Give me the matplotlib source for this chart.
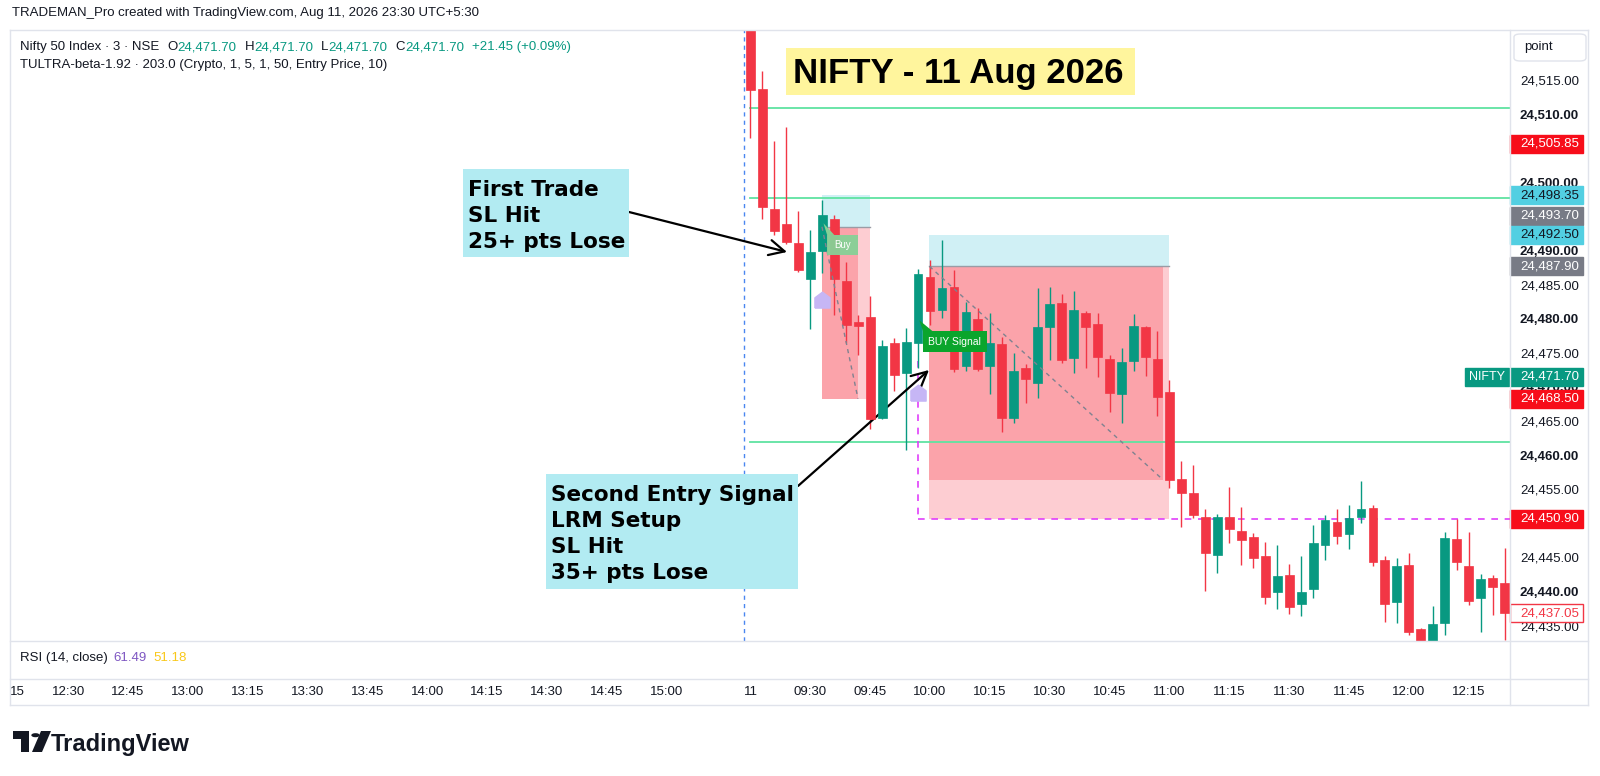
import matplotlib
matplotlib.use("Agg")
import matplotlib.pyplot as plt
from matplotlib.patches import Rectangle, Polygon, Circle, FancyBboxPatch
from matplotlib.lines import Line2D
from matplotlib.path import Path

plt.rcParams['font.family'] = ['Liberation Sans', 'DejaVu Sans']

W, H = 1600, 776
UP = '#089981'
DOWN = '#f23645'
INK = '#131722'
FRAME = '#e0e3eb'

# 3 min NIFTY bars of 11 Aug 2026, bar 0 = 09:15
opens = [24530.0, 24513.9, 24496.3, 24494.1, 24491.3, 24486.0, 24490.1, 24494.8,
         24485.7, 24479.7, 24480.5, 24465.7, 24476.7, 24472.3, 24476.7, 24486.3,
         24481.5, 24484.9, 24473.3, 24480.2, 24473.3, 24476.5, 24465.7, 24473.0,
         24470.8, 24479.0, 24482.5, 24474.5, 24481.1, 24479.4, 24474.3, 24469.2,
         24474.0, 24479.0, 24474.3, 24469.5, 24456.7, 24454.7, 24451.1, 24445.6,
         24451.1, 24449.1, 24448.2, 24445.4, 24440.1, 24442.6, 24438.4, 24440.6,
         24447.0, 24450.4, 24448.7, 24451.1, 24452.5, 24444.8, 24438.7, 24444.1,
         24434.7, 24432.0, 24435.6, 24447.9, 24444.0, 24439.3, 24442.2, 24441.5]
highs = [24533.0, 24516.6, 24506.3, 24508.3, 24496.0, 24493.2, 24497.6, 24495.4,
         24488.5, 24480.8, 24483.5, 24477.1, 24477.4, 24478.9, 24487.5, 24488.8,
         24491.8, 24487.4, 24482.7, 24481.8, 24481.1, 24477.5, 24475.2, 24473.6,
         24484.7, 24484.9, 24483.8, 24484.3, 24481.3, 24481.1, 24474.9, 24475.9,
         24480.9, 24479.1, 24478.4, 24471.2, 24459.4, 24458.8, 24452.3, 24451.6,
         24455.5, 24452.6, 24448.8, 24447.5, 24447.0, 24444.3, 24445.4, 24450.0,
         24451.4, 24452.3, 24452.9, 24456.4, 24452.9, 24445.4, 24445.1, 24445.9,
         24434.9, 24438.1, 24448.9, 24450.9, 24448.9, 24442.8, 24442.6, 24446.6]
lows = [24506.7, 24494.8, 24492.5, 24491.2, 24487.1, 24478.7, 24486.9, 24480.8,
        24476.7, 24474.9, 24464.0, 24465.5, 24469.6, 24461.0, 24473.0, 24479.3,
        24480.3, 24472.4, 24472.5, 24472.5, 24469.2, 24463.6, 24464.9, 24467.9,
        24468.6, 24474.2, 24473.7, 24472.3, 24473.0, 24471.7, 24466.5, 24464.9,
        24472.6, 24471.8, 24466.0, 24455.4, 24449.7, 24451.0, 24440.3, 24442.9,
        24447.3, 24444.1, 24443.7, 24438.4, 24437.7, 24436.9, 24436.6, 24439.3,
        24444.8, 24447.2, 24446.5, 24450.3, 24444.0, 24435.7, 24435.6, 24433.8,
        24431.0, 24431.0, 24433.8, 24443.4, 24438.2, 24434.3, 24436.8, 24433.1]
closes = [24513.8, 24496.6, 24493.1, 24491.5, 24487.4, 24490.0, 24495.4, 24486.0,
          24479.3, 24479.1, 24465.5, 24476.2, 24472.0, 24476.8, 24486.8, 24481.3,
          24484.7, 24472.8, 24481.2, 24472.8, 24476.7, 24465.7, 24472.6, 24471.4,
          24479.0, 24482.4, 24474.2, 24481.5, 24479.0, 24474.6, 24469.3, 24473.9,
          24479.1, 24474.6, 24468.7, 24456.6, 24454.7, 24451.4, 24445.9, 24451.1,
          24449.4, 24447.8, 24445.1, 24439.4, 24442.5, 24437.9, 24440.1, 24447.3,
          24450.7, 24448.4, 24451.0, 24452.3, 24444.5, 24438.4, 24444.0, 24434.3,
          24432.0, 24435.5, 24448.1, 24444.5, 24438.8, 24442.1, 24440.9, 24437.05]

# horizontal levels
level_lines = [24511.1, 24497.9, 24462.1]
stop_line = 24450.90

# the two long position tools
pos_entry = [24493.70, 24487.90]
pos_target = [24498.35, 24492.50]
pos_stop = [24468.50, 24450.90]
pos_exit = [24468.50, 24456.60]
pos_start = [5.97, 14.95]
pos_end = [9.98, 34.97]
pos_exit_bar = [8.98, 34.46]

signal_bars = [6, 14]
signal_prices = [24483.0, 24469.3]

# price scale (levels hidden behind tags left out)
axis_prices = [24515, 24510, 24500, 24490, 24485, 24480, 24475,
               24470, 24465, 24460, 24455, 24445, 24440, 24435]
tag_prices = [24505.85, 24498.35, 24493.70, 24492.50, 24487.90, 24471.70,
              24468.50, 24450.90, 24437.05]
tag_kinds = ['red', 'cyan', 'gray', 'cyan', 'gray', 'teal', 'red', 'red', 'last']

# time scale
time_labels = ['15', '12:30', '12:45', '13:00', '13:15', '13:30', '13:45',
               '14:00', '14:15', '14:30', '14:45', '15:00', '11', '09:30',
               '09:45', '10:00', '10:15', '10:30', '10:45', '11:00', '11:15',
               '11:30', '11:45', '12:00', '12:15']
time_bars = [-62, -57, -52, -47, -42, -37, -32, -27, -22, -17, -12, -7, 0, 5,
             10, 15, 20, 25, 30, 35, 40, 45, 50, 55, 60]


def fx(x):
    return x / W


def fy(y):
    return 1 - y / H


def fig_line(x0, y0, x1, y1, color=FRAME, lw=1):
    fig.add_artist(Line2D([fx(x0), fx(x1)], [fy(y0), fy(y1)], color=color, lw=lw))


fig = plt.figure(figsize=(16, 7.76), dpi=100)
fig.patch.set_facecolor('white')

XLIM = (-61.86, 63.45)
YLIM = (24432.96, 24522.55)

ax = fig.add_axes([fx(10), fy(641), fx(1500), 611 / H])
ax.set_xlim(*XLIM)
ax.set_ylim(*YLIM)
ax.axis('off')

# session break
ax.axvline(-0.54, color='#4a86f0', lw=1, dashes=(3, 3), zorder=1)

# position tools
for i in range(2):
    s, e = pos_start[i], pos_end[i]
    ax.add_patch(Rectangle((s, pos_entry[i]), e - s, pos_target[i] - pos_entry[i],
                           facecolor='#d0f0f5', edgecolor='none', zorder=1))
    ax.add_patch(Rectangle((s, pos_stop[i]), e - s, pos_entry[i] - pos_stop[i],
                           facecolor='#fdcdd2', edgecolor='none', zorder=1))
    ax.add_patch(Rectangle((s, pos_exit[i]), pos_exit_bar[i] - s, pos_entry[i] - pos_exit[i],
                           facecolor='#fba3aa', edgecolor='none', zorder=1.1))
    ax.plot([s, e], [pos_entry[i], pos_entry[i]], color='#9a9ca5', lw=1, zorder=1.2)
    ax.plot([s, pos_exit_bar[i]], [pos_entry[i], pos_exit[i]], color='#7f8290',
            lw=1, dashes=(3, 3), zorder=5)

# levels
for lv in level_lines:
    ax.plot([0, XLIM[1]], [lv, lv], color='#5fe3a1', lw=1.3, zorder=2)
ax.plot([signal_bars[1], XLIM[1]], [stop_line, stop_line], color='#e040fb',
        lw=1.2, dashes=(4, 4), zorder=2)
ax.plot([signal_bars[1], signal_bars[1]], [24474.0, stop_line], color='#e040fb',
        lw=1.2, dashes=(4, 4), zorder=2)

# candles
bars = list(range(len(opens)))
cols = [UP if c >= o else DOWN for o, c in zip(opens, closes)]
ax.vlines(bars, lows, highs, colors=cols, lw=1, zorder=3)
ax.bar(bars, [abs(c - o) for o, c in zip(opens, closes)],
       bottom=[min(o, c) for o, c in zip(opens, closes)],
       width=0.74, color=cols, edgecolor=cols, linewidth=0.5, zorder=4)

# signal markers
house = Path([(-1, -1), (1, -1), (1, 0.35), (0, 1.1), (-1, 0.35), (-1, -1)])
ax.plot(signal_bars, signal_prices, linestyle='none', marker=house, markersize=12,
        color='#c6b6f5', zorder=5)

# Buy labels
ax.add_patch(Rectangle((6.4, 24489.6), 2.58, 2.9, facecolor='#86d196',
                       edgecolor='none', alpha=0.95, zorder=6))
ax.add_patch(Polygon([(6.1, 24494.2), (6.4, 24492.5), (7.0, 24492.5)],
                     facecolor='#86d196', edgecolor='none', zorder=6))
ax.text(7.69, 24491.05, 'Buy', color='white', fontsize=7, ha='center',
        va='center', zorder=7)
ax.add_patch(Rectangle((14.41, 24475.3), 5.35, 3.1, facecolor='#0aa52c',
                       edgecolor='none', zorder=6))
ax.add_patch(Polygon([(14.1, 24480.0), (14.41, 24478.4), (15.2, 24478.4)],
                     facecolor='#0aa52c', edgecolor='none', zorder=6))
ax.text(17.08, 24476.85, 'BUY Signal', color='white', fontsize=7.5,
        ha='center', va='center', zorder=7)

# price scale
pax = fig.add_axes([fx(1510), fy(641), 78 / W, 611 / H])
pax.set_xlim(0, 1)
pax.set_ylim(*YLIM)
pax.axis('off')
for p in axis_prices:
    pax.text(0.128, p, f"{p:,.2f}", fontsize=9.5, color=INK, va='center', ha='left',
             fontweight='bold' if p % 10 == 0 else 'normal', zorder=2)

tr = pax.get_yaxis_transform()
tag_style = {'red': ('#f70d1a', 'white'), 'cyan': ('#52cfe2', INK),
             'gray': ('#787b86', 'white'), 'teal': (UP, 'white'),
             'last': ('white', '#f23645')}
for p, kind in zip(tag_prices, tag_kinds):
    y = p + 1.6 if p == 24493.70 else p
    face, tc = tag_style[kind]
    edge = '#f23645' if kind == 'last' else face
    pax.add_patch(Rectangle((0.0, y - 1.32), 0.94, 2.64, transform=tr, facecolor=face,
                            edgecolor=edge, lw=1, zorder=3, clip_on=False))
    pax.text(0.128, y, f"{p:,.2f}", transform=tr, fontsize=9.5, color=tc,
             va='center', ha='left', zorder=4)
    if kind == 'teal':
        pax.add_patch(Rectangle((-0.577, y - 1.32), 0.56, 2.64, transform=tr,
                                facecolor=UP, edgecolor=UP, zorder=3, clip_on=False))
        pax.text(-0.297, y, 'NIFTY', transform=tr, fontsize=9, color='white',
                 va='center', ha='center', zorder=4, clip_on=False)

# time scale
tax = fig.add_axes([fx(10), fy(705), fx(1500), 26 / H])
tax.set_xlim(*XLIM)
tax.set_ylim(0, 1)
tax.axis('off')
for b, lab in zip(time_bars, time_labels):
    if lab == '15':
        # only the tail of "12:15" shows at the left edge
        tax.text(b + 1.35, 0.5, lab, fontsize=9.5, color=INK, ha='right', va='center')
    else:
        tax.text(b, 0.5, lab, fontsize=9.5, color=INK, ha='center', va='center')

# frame
fig_line(10, 30, 1588, 30)
fig_line(10, 641, 1588, 641)
fig_line(10, 679, 1588, 679)
fig_line(10, 705, 1588, 705)
fig_line(10, 30, 10, 705)
fig_line(1588, 30, 1588, 705)
fig_line(1510, 30, 1510, 705)

# header and legends
fig.text(fx(12), fy(13), 'TRADEMAN_Pro created with TradingView.com, Aug 11, 2026 23:30 UTC+5:30',
         fontsize=9.5, color=INK, va='center')

renderer = fig.canvas.get_renderer()


def run_text(x, y, pieces, size=9.5):
    for s, c, gap in pieces:
        t = fig.text(fx(x), fy(y), s, fontsize=size, color=c, va='center', ha='left')
        x += t.get_window_extent(renderer=renderer).width + gap


run_text(20, 47, [('Nifty 50 Index \u00b7 3 \u00b7 NSE', INK, 8),
                  ('O', INK, 0), ('24,471.70', UP, 8),
                  ('H', INK, 0), ('24,471.70', UP, 8),
                  ('L', INK, 0), ('24,471.70', UP, 8),
                  ('C', INK, 0), ('24,471.70', UP, 8),
                  ('+21.45 (+0.09%)', UP, 0)])
fig.text(fx(20), fy(65), 'TULTRA-beta-1.92 \u00b7 203.0 (Crypto, 1, 5, 1, 50, Entry Price, 10)',
         fontsize=9.5, color=INK, va='center')
run_text(20, 658, [('RSI (14, close)', INK, 6), ('61.49', '#7e57c2', 6),
                   ('51.18', '#f9c81a', 0)])

# point button
fig.add_artist(FancyBboxPatch((fx(1514), fy(61)), fx(72), 27 / H,
                              boxstyle='round,pad=0,rounding_size=0.004',
                              transform=fig.transFigure, facecolor='white',
                              edgecolor=FRAME, lw=1))
fig.text(fx(1538), fy(47), 'point', fontsize=9.5, color=INK, ha='center', va='center')

# title
fig.add_artist(Rectangle((fx(786), fy(95)), fx(349), 47 / H, transform=fig.transFigure,
                         facecolor='#fff59d', edgecolor='none'))
fig.text(fx(793), fy(83), 'NIFTY - 11 Aug 2026', fontsize=25, fontweight='bold',
         color='black', va='baseline', ha='left')

# note boxes
note_font = dict(fontsize=15.5, fontweight='bold', family='DejaVu Sans',
                 color='black', va='baseline')
fig.add_artist(Rectangle((fx(463), fy(257)), fx(166), 88 / H, transform=fig.transFigure,
                         facecolor='#b2ebf2', edgecolor='none'))
for k, line in enumerate(['First Trade', 'SL Hit', '25+ pts Lose']):
    fig.text(fx(468), fy(196 + 26 * k), line, **note_font)

fig.add_artist(Rectangle((fx(546), fy(589)), fx(252), 115 / H, transform=fig.transFigure,
                         facecolor='#b2ebf2', edgecolor='none'))
for k, line in enumerate(['Second Entry Signal', 'LRM Setup', 'SL Hit', '35+ pts Lose']):
    fig.text(fx(551), fy(501 + 26 * k), line, **note_font)

arrow = dict(arrowstyle='->,head_length=1.1,head_width=0.55', lw=1.6, color='black',
             shrinkA=0, shrinkB=0)
ax.annotate('', xy=(787, H - 252), xycoords='figure pixels',
            xytext=(629, H - 212), textcoords='figure pixels', arrowprops=arrow,
            annotation_clip=False)
ax.annotate('', xy=(929, H - 370), xycoords='figure pixels',
            xytext=(798, H - 486), textcoords='figure pixels', arrowprops=arrow,
            annotation_clip=False)

# TradingView logo
lx, ly = 13, 731
fig.add_artist(Polygon([(fx(lx), fy(ly)), (fx(lx + 16), fy(ly)), (fx(lx + 16), fy(ly + 21)),
                        (fx(lx + 8), fy(ly + 21)), (fx(lx + 8), fy(ly + 8)), (fx(lx), fy(ly + 8))],
                       transform=fig.transFigure, facecolor='#131722', edgecolor='none'))
fig.add_artist(Circle((fx(lx + 22.5), fy(ly + 4.2)), 4.2 / W, transform=fig.transFigure,
                      facecolor='#131722', edgecolor='none'))
fig.add_artist(Polygon([(fx(lx + 28), fy(ly)), (fx(lx + 38), fy(ly)), (fx(lx + 29), fy(ly + 21)),
                        (fx(lx + 19), fy(ly + 21))],
                       transform=fig.transFigure, facecolor='#131722', edgecolor='none'))
fig.text(fx(51), fy(751), 'TradingView', fontsize=17, fontweight='bold', color='#131722',
         va='baseline', ha='left')

fig.savefig('out.png', dpi=100, facecolor='white')
